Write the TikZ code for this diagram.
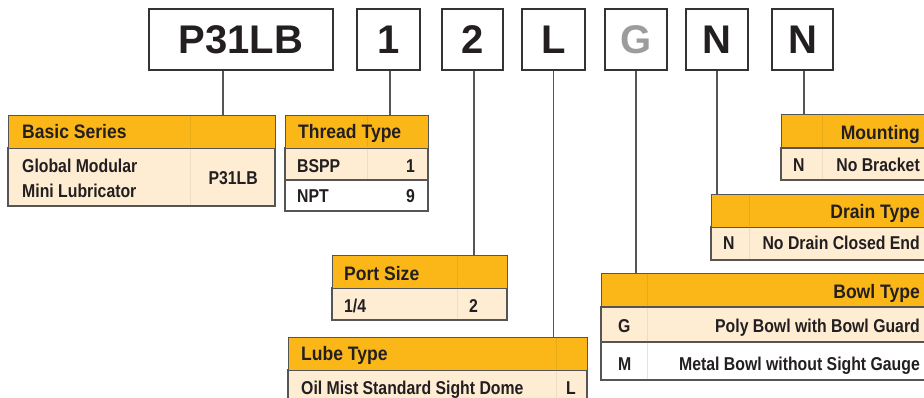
\documentclass[tikz,border=0pt]{standalone}
\usepackage{fontspec}
\setmainfont{Liberation Sans}
\newfontfamily\hdf[FakeStretch=0.9]{Liberation Sans}
\newfontfamily\bdf[FakeStretch=0.85]{Liberation Sans}
\definecolor{hdr}{HTML}{FBB718}
\definecolor{bdy}{HTML}{FEEDD3}
\definecolor{txt}{HTML}{231F20}
\definecolor{brd}{HTML}{555555}
\definecolor{ggray}{HTML}{9B9C9E}
\definecolor{divh}{HTML}{E9AA1A}
\definecolor{divb}{HTML}{EEDDC4}
\definecolor{divw}{HTML}{E4E4E4}
\tikzset{
  codebox/.style={draw=black!80, line width=1.4pt, fill=white, inner sep=0pt,
    minimum height=61pt, text height=28.6pt, text depth=0pt,
    font=\bfseries\fontsize{40}{40}\selectfont, text=txt},
  hd/.style={draw=brd, line width=1.2pt, fill=hdr, inner sep=0pt, minimum height=33pt, anchor=north west},
  bdrow/.style={draw=brd, line width=1.2pt, fill=bdy},
  whrow/.style={draw=brd, line width=1.2pt, fill=white},
  divlh/.style={draw=divh, line width=0.5pt},
  divlb/.style={draw=divb, line width=0.5pt},
  divlw/.style={draw=divw, line width=0.5pt},
  conn/.style={draw=brd, line width=1.2pt},
  ht/.style={font=\hdf\bfseries\fontsize{19.5}{20}\selectfont, text=txt, inner sep=0pt},
  bt/.style={font=\bdf\bfseries\fontsize{18.6}{20}\selectfont, text=txt, inner sep=0pt},
}
\begin{document}
\begin{tikzpicture}[x=1pt,y=-1pt]
\clip (0,0) rectangle (924,398);
\fill[white] (0,0) rectangle (924,398);

% code boxes
\node[codebox, minimum width=184pt] (c1) at (241,39.5) {P31LB};
\node[codebox, minimum width=63pt] (c2) at (388.5,39.5) {1};
\node[codebox, minimum width=61pt] (c3) at (472.5,39.5) {2};
\node[codebox, minimum width=63pt] (c4) at (553.5,39.5) {L};
\node[codebox, minimum width=62pt, text=ggray] (c5) at (636,39.5) {G};
\node[codebox, minimum width=62pt] (c6) at (717,39.5) {N};
\node[codebox, minimum width=61pt] (c7) at (802.5,39.5) {N};

% Basic Series
\draw[bdrow] (8,148) rectangle (275,206);
\node[hd, minimum width=267pt] (bs) at (8,115) {};
\draw[divlh] (190,116) -- (190,147.4);
\draw[divlb] (190,148.6) -- (190,205.4);
\node[ht, anchor=base west] at (22,139) {Basic Series};
\node[bt, anchor=base west] at (22,173) {Global Modular};
\node[bt, anchor=base west] at (22,197.5) {Mini Lubricator};
\node[bt, anchor=base east] at (258,185) {P31LB};

% Thread Type
\draw[bdrow] (285,148) rectangle (428,180);
\draw[whrow] (285,180) rectangle (428,211);
\node[hd, minimum width=143pt] (tt) at (285,115) {};
\draw[divlh] (367,116) -- (367,147.4);
\draw[divlb] (367,148.6) -- (367,179.4);
\node[ht, anchor=base west] at (298,139) {Thread Type};
\node[bt, anchor=base west] at (297,172.7) {BSPP};
\node[bt, anchor=base east] at (415,172.7) {1};
\node[bt, anchor=base west] at (297,202.7) {NPT};
\node[bt, anchor=base east] at (415,202.7) {9};

% Port Size
\draw[bdrow] (332,288) rectangle (507,320);
\node[hd, minimum width=175pt] (ps) at (332,255) {};
\draw[divlh] (457,256) -- (457,287.4);
\draw[divlb] (457,288.6) -- (457,319.4);
\node[ht, anchor=base west] at (344,280) {Port Size};
\node[bt, anchor=base west] at (344,312.7) {1/4};
\node[bt, anchor=base east] at (478,312.7) {2};

% Lube Type
\draw[bdrow] (288,370) rectangle (587,410);
\node[hd, minimum width=299pt] (lt) at (288,337) {};
\draw[divlh] (556,338) -- (556,369.4);
\draw[divlb] (556,370.6) -- (556,409);
\node[ht, anchor=base west] at (301,360.7) {Lube Type};
\node[bt, anchor=base west] at (301,394) {Oil Mist Standard Sight Dome};
\node[bt, anchor=base east] at (576,394) {L};

% Mounting
\draw[bdrow] (781,148) rectangle (940,180);
\node[hd, minimum width=159pt] (mt) at (781,114) {};
\draw[divlh] (822,115) -- (822,147.4);
\draw[divlb] (822,148.6) -- (822,179.4);
\node[ht, anchor=base east] at (920,139.3) {Mounting};
\node[bt, anchor=base west] at (793,171.7) {N};
\node[bt, anchor=base east] at (920,171.7) {No Bracket};

% Drain Type
\draw[bdrow] (711,227) rectangle (940,260);
\node[hd, minimum width=229pt] (dt) at (711,194) {};
\draw[divlh] (749,195) -- (749,226.4);
\draw[divlb] (749,227.6) -- (749,259.4);
\node[ht, anchor=base east] at (920,219) {Drain Type};
\node[bt, anchor=base west] at (723,250) {N};
\node[bt, anchor=base east] at (920,250) {No Drain Closed End};

% Bowl Type
\draw[bdrow] (601,307) rectangle (940,342);
\draw[whrow] (601,342) rectangle (940,380);
\node[hd, minimum width=339pt] (bt) at (601,273) {};
\draw[divlh] (647,274) -- (647,306.4);
\draw[divlb] (647,307.6) -- (647,341.4);
\draw[divlw] (647,342.6) -- (647,379.4);
\node[ht, anchor=base east] at (920,298.3) {Bowl Type};
\node[bt, anchor=base west] at (618,332.7) {G};
\node[bt, anchor=base east] at (920,332.7) {Poly Bowl with Bowl Guard};
\node[bt, anchor=base west] at (618,370) {M};
\node[bt, anchor=base east] at (920,370) {Metal Bowl without Sight Gauge};

% connectors
\draw[conn] ([xshift=-18pt]c1.south) -- ([xshift=-18pt]c1.south |- bs.north);
\draw[conn] ([xshift=1.5pt]c2.south) -- ([xshift=1.5pt]c2.south |- tt.north);
\draw[conn] ([xshift=1.5pt]c3.south) -- ([xshift=1.5pt]c3.south |- ps.north);
\draw[conn] (c4.south) -- (c4.south |- lt.north);
\draw[conn] (c5.south) -- (c5.south |- bt.north);
\draw[conn] (c6.south) -- (c6.south |- dt.north);
\draw[conn] ([xshift=1.5pt]c7.south) -- ([xshift=1.5pt]c7.south |- mt.north);
\end{tikzpicture}
\end{document}
